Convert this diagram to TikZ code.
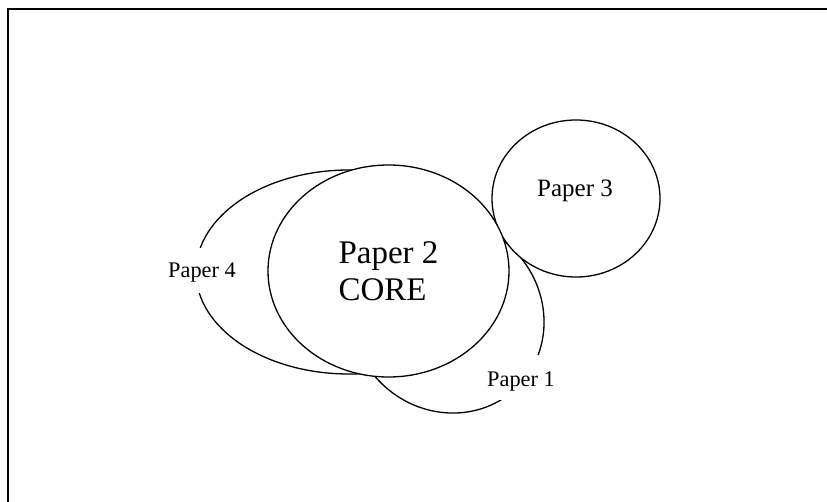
\documentclass[tikz,border=0pt]{standalone}
\usepackage{fontspec}
\setmainfont{Liberation Serif}
\usetikzlibrary{shapes.geometric}
\begin{document}
\begin{tikzpicture}[x=1pt,y=-1pt,
  shape line/.style={line width=1.3pt},
  bubble/.style={ellipse, draw, shape line, inner sep=0pt, outer sep=0pt},
  smalltext/.style={font=\fontsize{22.3}{26}\selectfont, inner xsep=3pt, inner ysep=0pt},
  cover/.style={fill=white}
]
\useasboundingbox (0,0) rectangle (827,502);
% frame (right and bottom edges lie outside the picture)
\draw[line width=1.8pt] (8,520) -- (8,9) -- (845,9);
% Paper 4 ellipse (right half hidden behind the core)
\node[bubble, minimum width=306pt, minimum height=204pt] (p4) at (349,272) {};
% Paper 1 ellipse (upper-left part hidden behind the core and Paper 3)
\node[bubble, rotate=-45, minimum width=200pt, minimum height=188pt] (p1) at (447,316) {};
% Paper 3
\node[bubble, fill=white, minimum width=168pt, minimum height=157pt] (p3) at (576,198.5) {};
% core
\node[bubble, fill=white, minimum width=241pt, minimum height=212pt, align=left,
      font=\fontsize{33}{37}\selectfont] (core) at (388.5,271) {Paper 2\\CORE};
% labels
\node[smalltext, cover, text height=30pt, text depth=15pt, anchor=base west] (l4) at (165,278) {Paper 4};
\node[smalltext, cover, text height=31pt, text depth=14pt, anchor=base west] (l1) at (484,386) {Paper 1};
\node[font=\fontsize{25}{29}\selectfont, inner sep=0pt, anchor=base west] (l3) at (537,197) {Paper 3};
\end{tikzpicture}
\end{document}
